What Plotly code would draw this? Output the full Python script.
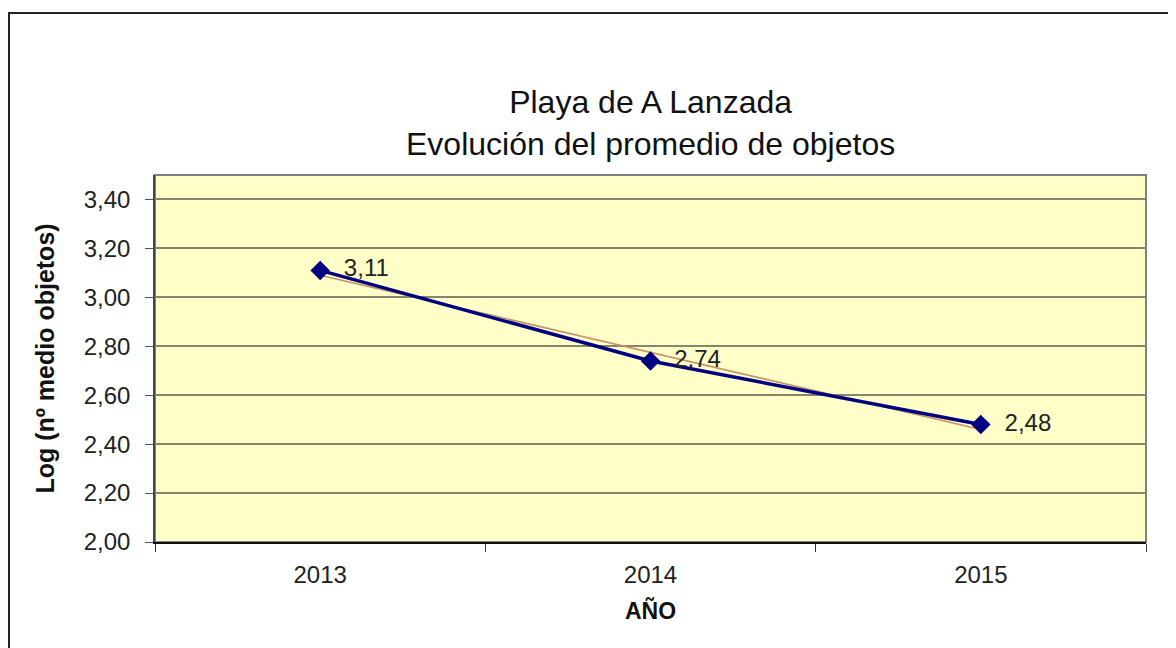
import plotly.graph_objects as go

# data
years = ["2013", "2014", "2015"]
log_mean_objects = [3.11, 2.74, 2.48]

# linear trend line (as drawn by the spreadsheet), read at its ends
trend_years = ["2013", "2015"]
trend_values = [3.09, 2.46]

y_ticks = [2.0, 2.2, 2.4, 2.6, 2.8, 3.0, 3.2, 3.4]

FONT = "Liberation Sans, Arial, sans-serif"

# the page body adds an 8px margin, so the figure is 8px smaller
OFF = 8
W, H = 1176 - OFF, 648 - OFF
L, R, T, B = 155 - OFF, 30, 175 - OFF, 106
pw, ph = W - L - R, H - T - B


def px_x(x):
    return (x - OFF - L) / pw


def px_y(y):
    return (H - B - (y - OFF)) / ph


fig = go.Figure()

fig.add_trace(go.Scatter(
    x=trend_years,
    y=trend_values,
    mode="lines",
    line=dict(color="#C8906A", width=1.5),
    hoverinfo="skip",
    showlegend=False,
))

fig.add_trace(go.Scatter(
    x=years,
    y=log_mean_objects,
    mode="lines+markers+text",
    line=dict(color="#000080", width=3.5),
    marker=dict(symbol="diamond", size=15, color="#000080"),
    text=log_mean_objects,
    texttemplate="  %{y:.2f}",
    textposition="middle right",
    textfont=dict(family=FONT, size=24, color="#222222"),
    showlegend=False,
))

fig.update_layout(
    width=W,
    height=H,
    margin=dict(l=L, r=R, t=T, b=B),
    paper_bgcolor="white",
    plot_bgcolor="#FFFFC8",
    separators=",.",
    font=dict(family=FONT, color="#222222"),
    annotations=[dict(
        text="Playa de A Lanzada<br>Evolución del promedio de objetos",
        xref="paper", yref="paper",
        x=0.5, y=px_y(123),
        xanchor="center", yanchor="middle",
        showarrow=False,
        font=dict(family=FONT, size=32, color="#111111"),
    )],
    shapes=[
        # plot area border
        dict(type="rect", xref="paper", yref="paper",
             x0=0, x1=1, y0=0, y1=1,
             line=dict(color="#808080", width=2), layer="below"),
        # outer chart frame
        dict(type="rect", xref="paper", yref="paper",
             x0=px_x(9), x1=px_x(1190), y0=px_y(670), y1=px_y(13),
             line=dict(color="#222222", width=2)),
    ],
)

fig.update_xaxes(
    type="category",
    categoryorder="array",
    categoryarray=years,
    range=[-0.5, 2.5],
    showgrid=False,
    showline=True,
    linecolor="#111111",
    linewidth=2,
    ticks="outside",
    tickson="boundaries",
    ticklen=8,
    tickcolor="#333333",
    ticklabelstandoff=10,
    tickfont=dict(family=FONT, size=24, color="#222222"),
    title=dict(text="<b>AÑO</b>", font=dict(family=FONT, size=23, color="#111111"),
               standoff=16),
    zeroline=False,
)

fig.update_yaxes(
    range=[2.0, 3.5],
    tickvals=y_ticks,
    tickformat=".2f",
    showgrid=True,
    gridcolor="#86866f",
    gridwidth=1.5,
    showline=True,
    linecolor="#444444",
    linewidth=1.5,
    ticks="outside",
    ticklen=8,
    tickcolor="#555555",
    ticklabelstandoff=10,
    tickfont=dict(family=FONT, size=24, color="#222222"),
    title=dict(text="<b>Log (nº medio objetos)</b>",
               font=dict(family=FONT, size=25, color="#111111"), standoff=22),
    zeroline=False,
)

fig.write_html("out.html")
